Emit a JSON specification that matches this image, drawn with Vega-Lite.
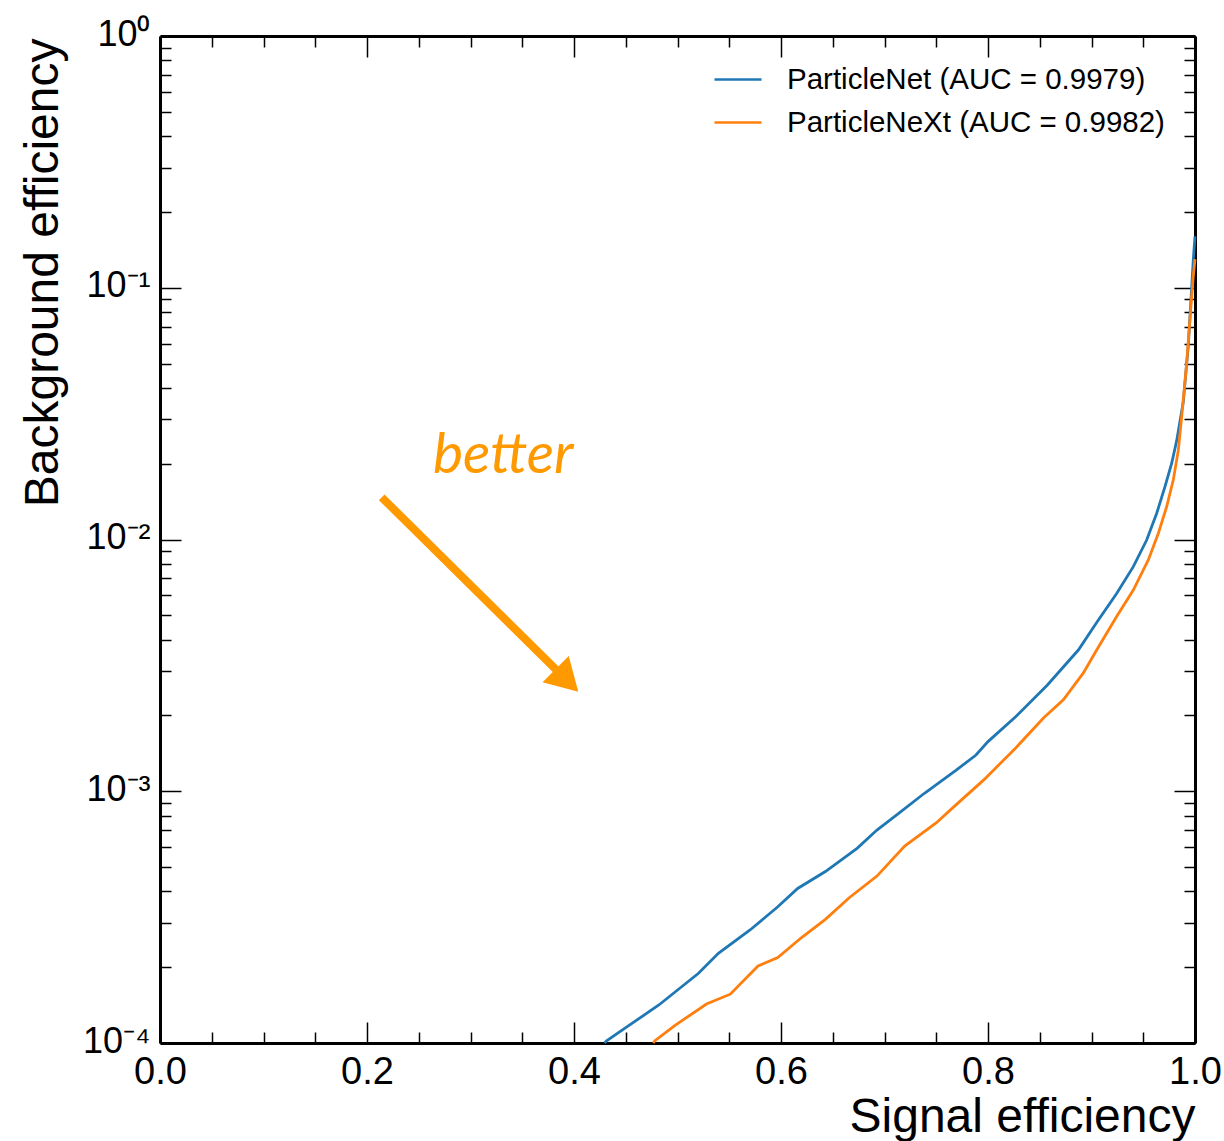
{
  "$schema": "https://vega.github.io/schema/vega-lite/v6.json",
  "width": 1035,
  "height": 1007,
  "autosize": {"type": "none"},
  "padding": {"left": 160, "top": 36, "right": 29, "bottom": 98},
  "background": "white",
  "config": {
    "view": {"stroke": null},
    "font": "Liberation Sans",
    "axis": {
      "grid": false,
      "domainColor": "black",
      "domainWidth": 3,
      "tickColor": "black",
      "tickWidth": 1.5,
      "labelFont": "Liberation Sans",
      "titleFont": "Liberation Sans",
      "labelColor": "black",
      "titleColor": "black",
      "labelFontSize": 38,
      "titleFontSize": 48,
      "titleFontWeight": "normal",
      "zindex": 1
    }
  },
  "datasets": {
    "curves": [
      {"model": "ParticleNet (AUC = 0.9979)", "sig": 0.4295, "bkg": 0.0001},
      {"model": "ParticleNet (AUC = 0.9979)", "sig": 0.4315, "bkg": 0.000102},
      {"model": "ParticleNet (AUC = 0.9979)", "sig": 0.4514, "bkg": 0.0001161},
      {"model": "ParticleNet (AUC = 0.9979)", "sig": 0.482, "bkg": 0.0001416},
      {"model": "ParticleNet (AUC = 0.9979)", "sig": 0.5203, "bkg": 0.0001892},
      {"model": "ParticleNet (AUC = 0.9979)", "sig": 0.5395, "bkg": 0.000227},
      {"model": "ParticleNet (AUC = 0.9979)", "sig": 0.5701, "bkg": 0.0002812},
      {"model": "ParticleNet (AUC = 0.9979)", "sig": 0.5969, "bkg": 0.0003475},
      {"model": "ParticleNet (AUC = 0.9979)", "sig": 0.6161, "bkg": 0.0004111},
      {"model": "ParticleNet (AUC = 0.9979)", "sig": 0.6429, "bkg": 0.0004797},
      {"model": "ParticleNet (AUC = 0.9979)", "sig": 0.6735, "bkg": 0.0005929},
      {"model": "ParticleNet (AUC = 0.9979)", "sig": 0.6927, "bkg": 0.0007015},
      {"model": "ParticleNet (AUC = 0.9979)", "sig": 0.7118, "bkg": 0.0008054},
      {"model": "ParticleNet (AUC = 0.9979)", "sig": 0.7386, "bkg": 0.0009817},
      {"model": "ParticleNet (AUC = 0.9979)", "sig": 0.7693, "bkg": 0.001213},
      {"model": "ParticleNet (AUC = 0.9979)", "sig": 0.7884, "bkg": 0.001393},
      {"model": "ParticleNet (AUC = 0.9979)", "sig": 0.8, "bkg": 0.001575},
      {"model": "ParticleNet (AUC = 0.9979)", "sig": 0.8267, "bkg": 0.001977},
      {"model": "ParticleNet (AUC = 0.9979)", "sig": 0.8574, "bkg": 0.002642},
      {"model": "ParticleNet (AUC = 0.9979)", "sig": 0.8873, "bkg": 0.003639},
      {"model": "ParticleNet (AUC = 0.9979)", "sig": 0.905, "bkg": 0.00468},
      {"model": "ParticleNet (AUC = 0.9979)", "sig": 0.9243, "bkg": 0.0061},
      {"model": "ParticleNet (AUC = 0.9979)", "sig": 0.9404, "bkg": 0.0078},
      {"model": "ParticleNet (AUC = 0.9979)", "sig": 0.9533, "bkg": 0.009954},
      {"model": "ParticleNet (AUC = 0.9979)", "sig": 0.963, "bkg": 0.01271},
      {"model": "ParticleNet (AUC = 0.9979)", "sig": 0.971, "bkg": 0.01622},
      {"model": "ParticleNet (AUC = 0.9979)", "sig": 0.9775, "bkg": 0.02009},
      {"model": "ParticleNet (AUC = 0.9979)", "sig": 0.9823, "bkg": 0.0247},
      {"model": "ParticleNet (AUC = 0.9979)", "sig": 0.9887, "bkg": 0.03524},
      {"model": "ParticleNet (AUC = 0.9979)", "sig": 0.9936, "bkg": 0.05957},
      {"model": "ParticleNet (AUC = 0.9979)", "sig": 0.9968, "bkg": 0.1005},
      {"model": "ParticleNet (AUC = 0.9979)", "sig": 0.9984, "bkg": 0.13},
      {"model": "ParticleNet (AUC = 0.9979)", "sig": 1.0, "bkg": 0.16},
      {"model": "ParticleNeXt (AUC = 0.9982)", "sig": 0.4765, "bkg": 0.0001},
      {"model": "ParticleNeXt (AUC = 0.9982)", "sig": 0.4782, "bkg": 0.0001021},
      {"model": "ParticleNeXt (AUC = 0.9982)", "sig": 0.4973, "bkg": 0.0001172},
      {"model": "ParticleNeXt (AUC = 0.9982)", "sig": 0.528, "bkg": 0.0001429},
      {"model": "ParticleNeXt (AUC = 0.9982)", "sig": 0.551, "bkg": 0.0001563},
      {"model": "ParticleNeXt (AUC = 0.9982)", "sig": 0.5778, "bkg": 0.0002023},
      {"model": "ParticleNeXt (AUC = 0.9982)", "sig": 0.5969, "bkg": 0.0002183},
      {"model": "ParticleNeXt (AUC = 0.9982)", "sig": 0.6199, "bkg": 0.0002624},
      {"model": "ParticleNeXt (AUC = 0.9982)", "sig": 0.6429, "bkg": 0.0003097},
      {"model": "ParticleNeXt (AUC = 0.9982)", "sig": 0.6659, "bkg": 0.0003776},
      {"model": "ParticleNeXt (AUC = 0.9982)", "sig": 0.6927, "bkg": 0.0004603},
      {"model": "ParticleNeXt (AUC = 0.9982)", "sig": 0.7195, "bkg": 0.0006053},
      {"model": "ParticleNeXt (AUC = 0.9982)", "sig": 0.7502, "bkg": 0.0007499},
      {"model": "ParticleNeXt (AUC = 0.9982)", "sig": 0.7693, "bkg": 0.0008851},
      {"model": "ParticleNeXt (AUC = 0.9982)", "sig": 0.7962, "bkg": 0.001112},
      {"model": "ParticleNeXt (AUC = 0.9982)", "sig": 0.8268, "bkg": 0.001486},
      {"model": "ParticleNeXt (AUC = 0.9982)", "sig": 0.8536, "bkg": 0.001954},
      {"model": "ParticleNeXt (AUC = 0.9982)", "sig": 0.8728, "bkg": 0.002307},
      {"model": "ParticleNeXt (AUC = 0.9982)", "sig": 0.892, "bkg": 0.002944},
      {"model": "ParticleNeXt (AUC = 0.9982)", "sig": 0.905, "bkg": 0.003639},
      {"model": "ParticleNeXt (AUC = 0.9982)", "sig": 0.9243, "bkg": 0.004943},
      {"model": "ParticleNeXt (AUC = 0.9982)", "sig": 0.9404, "bkg": 0.006295},
      {"model": "ParticleNeXt (AUC = 0.9982)", "sig": 0.9549, "bkg": 0.008299},
      {"model": "ParticleNeXt (AUC = 0.9982)", "sig": 0.9646, "bkg": 0.01059},
      {"model": "ParticleNeXt (AUC = 0.9982)", "sig": 0.9726, "bkg": 0.01349},
      {"model": "ParticleNeXt (AUC = 0.9982)", "sig": 0.979, "bkg": 0.01722},
      {"model": "ParticleNeXt (AUC = 0.9982)", "sig": 0.9839, "bkg": 0.02265},
      {"model": "ParticleNeXt (AUC = 0.9982)", "sig": 0.9871, "bkg": 0.03069},
      {"model": "ParticleNeXt (AUC = 0.9982)", "sig": 0.9919, "bkg": 0.05},
      {"model": "ParticleNeXt (AUC = 0.9982)", "sig": 0.9958, "bkg": 0.08166},
      {"model": "ParticleNeXt (AUC = 0.9982)", "sig": 0.9984, "bkg": 0.112},
      {"model": "ParticleNeXt (AUC = 0.9982)", "sig": 1.0, "bkg": 0.13}
    ],
    "arrow": [
      {"x": 0.2142, "y": 0.01471, "x2": 0.3932, "y2": 0.002756}
    ],
    "head": [
      {"x": 0.3932, "y": 0.002756}
    ],
    "note": [
      {"x": 0.3317, "y": 0.01842, "label": "better"}
    ]
  },
  "layer": [
    {
      "data": {"name": "curves"},
      "mark": {"type": "line", "strokeWidth": 2.8},
      "encoding": {
        "x": {
          "field": "sig", "type": "quantitative",
          "scale": {"domain": [0, 1], "nice": false, "zero": false},
          "axis": {
            "orient": "bottom", "values": [0, 0.2, 0.4, 0.6, 0.8, 1], "format": ".1f",
            "tickSize": -21, "labelPadding": 31, "labelFlush": false,
            "title": "Signal efficiency", "titleX": 1035, "titleY": 88,
            "titleAlign": "right", "titleBaseline": "alphabetic"
          }
        },
        "y": {
          "field": "bkg", "type": "quantitative",
          "scale": {"type": "log", "domain": [0.0001, 1], "nice": false},
          "axis": {
            "orient": "left", "values": [0.0001, 0.001, 0.01, 0.1, 1],
            "labelExpr": "'10' + (datum.value >= 1 ? '⁰' : '⁻' + ['', '¹', '²', '³', '⁴'][round(-log(datum.value) / LN10)])",
            "labelFontSize": 36, "labelOffset": -2,
            "tickSize": -21, "labelPadding": 31, "labelFlush": false,
            "title": "Background efficiency", "titleX": -103, "titleY": 2,
            "titleAlign": "right", "titleAngle": -90, "titleBaseline": "alphabetic"
          }
        },
        "color": {
          "field": "model", "type": "nominal",
          "scale": {"domain": ["ParticleNet (AUC = 0.9979)", "ParticleNeXt (AUC = 0.9982)"], "range": ["#1f77b4", "#ff7f0e"]},
          "legend": {
            "orient": "none", "legendX": 553, "legendY": 18.5, "title": null,
            "symbolType": "stroke", "symbolSize": 2209, "symbolStrokeWidth": 2.5,
            "labelFontSize": 29.5, "labelFont": "Liberation Sans", "labelColor": "black",
            "labelOffset": 24, "rowPadding": 3, "padding": 0, "labelLimit": 0
          }
        }
      }
    },
    {
      "data": {"name": "curves"},
      "mark": {"type": "line", "opacity": 0},
      "encoding": {
        "x": {
          "field": "sig", "type": "quantitative",
          "axis": {"orient": "bottom", "values": [0.05, 0.1, 0.15, 0.25, 0.3, 0.35, 0.45, 0.5, 0.55, 0.65, 0.7, 0.75, 0.85, 0.9, 0.95], "tickSize": -11, "labels": false, "domain": false, "title": null}
        },
        "y": {
          "field": "bkg", "type": "quantitative", "scale": {"type": "log"},
          "axis": {"orient": "left", "values": [0.0002, 0.0003, 0.0004, 0.0005, 0.0006, 0.0007, 0.0008, 0.0009, 0.002, 0.003, 0.004, 0.005, 0.006, 0.007, 0.008, 0.009, 0.02, 0.03, 0.04, 0.05, 0.06, 0.07, 0.08, 0.09, 0.2, 0.3, 0.4, 0.5, 0.6, 0.7, 0.8, 0.9], "tickSize": -11, "labels": false, "domain": false, "title": null}
        }
      }
    },
    {
      "data": {"name": "curves"},
      "mark": {"type": "line", "opacity": 0},
      "encoding": {
        "x": {
          "field": "sig", "type": "quantitative",
          "axis": {"orient": "top", "values": [0, 0.2, 0.4, 0.6, 0.8, 1], "tickSize": -21, "labels": false, "title": null}
        },
        "y": {
          "field": "bkg", "type": "quantitative", "scale": {"type": "log"},
          "axis": {"orient": "right", "values": [0.0001, 0.001, 0.01, 0.1, 1], "tickSize": -21, "labels": false, "title": null}
        }
      }
    },
    {
      "data": {"name": "curves"},
      "mark": {"type": "line", "opacity": 0},
      "encoding": {
        "x": {
          "field": "sig", "type": "quantitative",
          "axis": {"orient": "top", "values": [0.05, 0.1, 0.15, 0.25, 0.3, 0.35, 0.45, 0.5, 0.55, 0.65, 0.7, 0.75, 0.85, 0.9, 0.95], "tickSize": -11, "labels": false, "domain": false, "title": null}
        },
        "y": {
          "field": "bkg", "type": "quantitative", "scale": {"type": "log"},
          "axis": {"orient": "right", "values": [0.0002, 0.0003, 0.0004, 0.0005, 0.0006, 0.0007, 0.0008, 0.0009, 0.002, 0.003, 0.004, 0.005, 0.006, 0.007, 0.008, 0.009, 0.02, 0.03, 0.04, 0.05, 0.06, 0.07, 0.08, 0.09, 0.2, 0.3, 0.4, 0.5, 0.6, 0.7, 0.8, 0.9], "tickSize": -11, "labels": false, "domain": false, "title": null}
        }
      }
    },
    {
      "data": {"name": "arrow"},
      "mark": {"type": "rule", "color": "#ff9900", "strokeWidth": 8, "strokeCap": "butt"},
      "encoding": {
        "x": {"field": "x", "type": "quantitative", "axis": null},
        "y": {"field": "y", "type": "quantitative", "scale": {"type": "log"}, "axis": null},
        "x2": {"field": "x2"},
        "y2": {"field": "y2"}
      }
    },
    {
      "data": {"name": "head"},
      "mark": {"type": "point", "shape": "triangle-right", "filled": true, "color": "#ff9900", "opacity": 1, "size": 1369, "angle": 45},
      "encoding": {
        "x": {"field": "x", "type": "quantitative", "axis": null},
        "y": {"field": "y", "type": "quantitative", "scale": {"type": "log"}, "axis": null}
      }
    },
    {
      "data": {"name": "note"},
      "mark": {"type": "text", "font": "Lato", "fontStyle": "italic", "fontSize": 57, "color": "#ff9900", "align": "center", "baseline": "alphabetic"},
      "encoding": {
        "x": {"field": "x", "type": "quantitative", "axis": null},
        "y": {"field": "y", "type": "quantitative", "scale": {"type": "log"}, "axis": null},
        "text": {"field": "label"}
      }
    }
  ],
  "resolve": {"axis": {"x": "independent", "y": "independent"}}
}
